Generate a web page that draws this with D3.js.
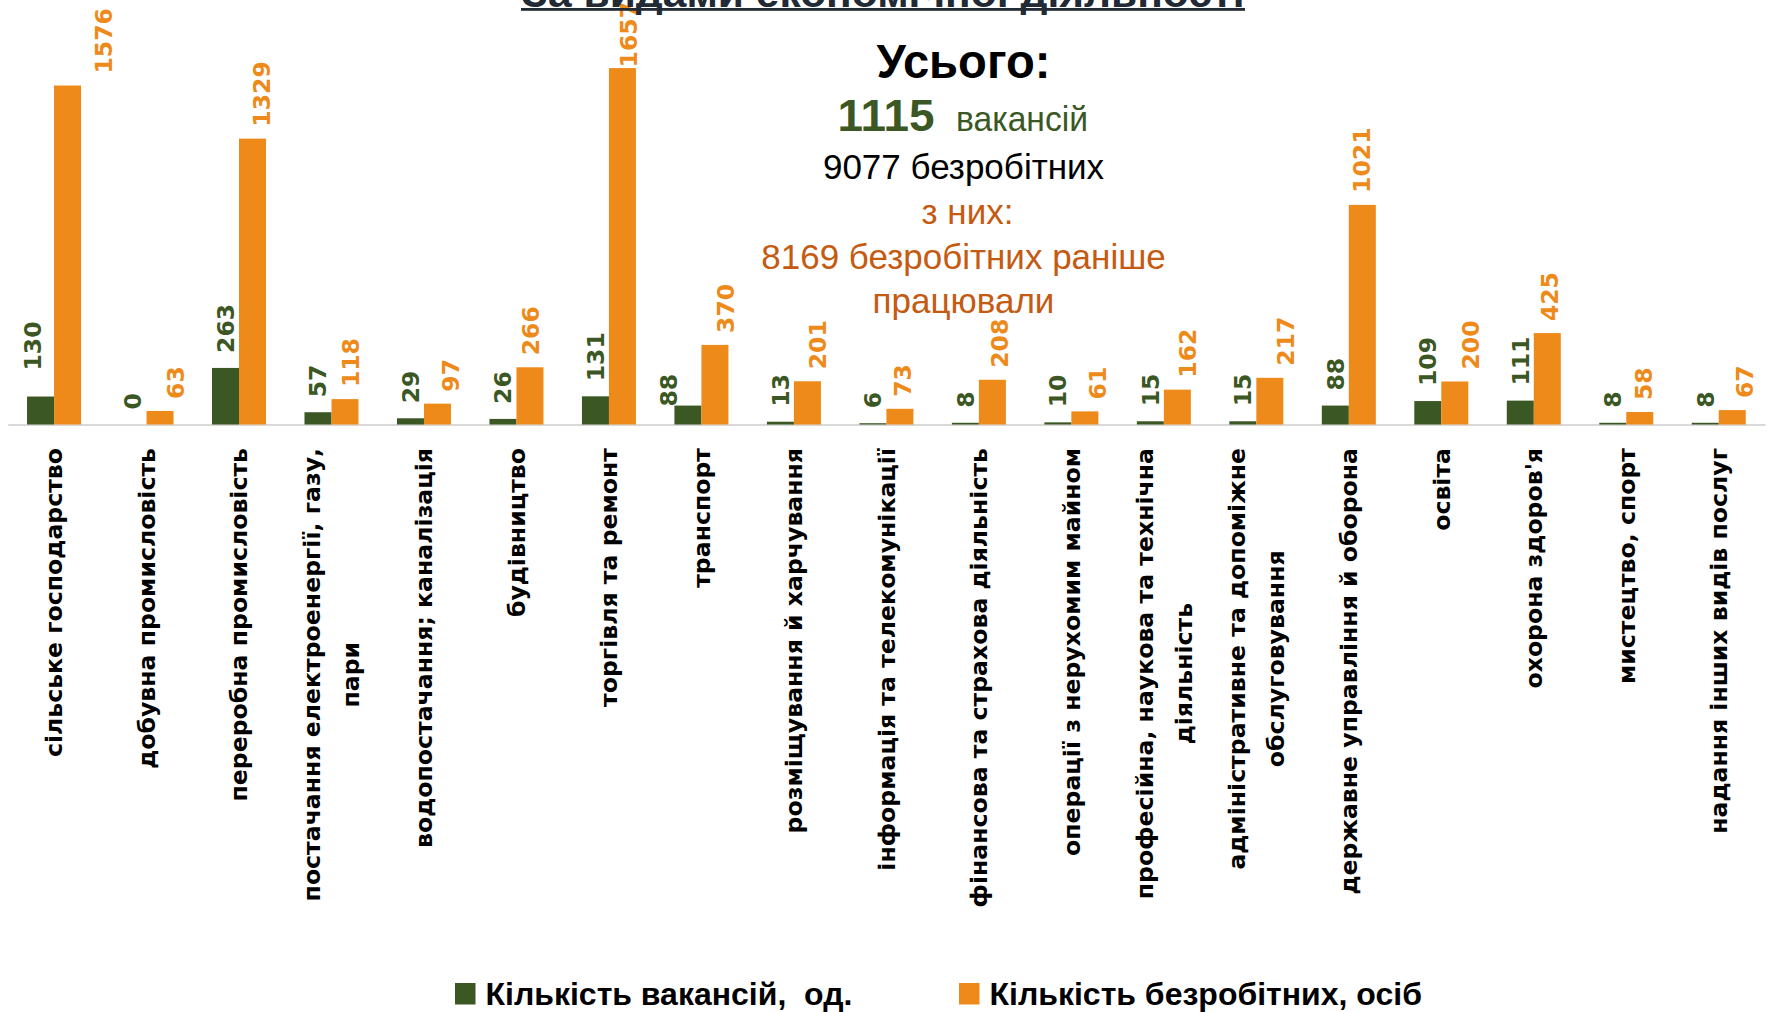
<!DOCTYPE html>
<html><head><meta charset="utf-8">
<script src="https://cdn.jsdelivr.net/npm/d3@7"></script>
<style>body{margin:0;background:#fff;overflow:hidden} svg{display:block}</style>
</head><body>
<svg id="chart" width="1770" height="1012"></svg>
<script>
// ---------- data ----------
const categories = [
  "сільське господарство",
  "добувна промисловість",
  "переробна промисловість",
  "постачання електроенергії, газу,\nпари",
  "водопостачання; каналізація",
  "будівництво",
  "торгівля та ремонт",
  "транспорт",
  "розміщування й харчування",
  "інформація та телекомунікації",
  "фінансова та страхова діяльність",
  "операції з нерухомим майном",
  "професійна, наукова та технічна\nдіяльність",
  "адміністративне та допоміжне\nобслуговування",
  "державне управління й оборона",
  "освіта",
  "охорона здоров'я",
  "мистецтво, спорт",
  "надання інших видів послуг"
];
const vacancies  = [130, 0, 263, 57, 29, 26, 131, 88, 13, 6, 8, 10, 15, 15, 88, 109, 111, 8, 8];
const unemployed = [1576, 63, 1329, 118, 97, 266, 1657, 370, 201, 73, 208, 61, 162, 217, 1021, 200, 425, 58, 67];
const seriesNames = ["Кількість вакансій,  од.", "Кількість безробітних, осіб"];
const titleText = "За видами економічної діяльності";
const totalHeader = "Усього:";
const totalVacancies = "1115";
const totalVacWord = "вакансій";
const totalUnemployed = "9077 безробітних";
const ofThem = "з них:";
const workedBefore = ["8169 безробітних раніше", "працювали"];

// ---------- styles / layout ----------
const GREEN = "#3B5724", ORANGE = "#EE8A1A", TXT_ORANGE = "#C55A11", TXT_GREEN = "#3B5724";
const svg = d3.select("#chart");
const baseY = 424.5;

const x = d3.scaleBand().domain(d3.range(categories.length)).range([7.8, 1765])
  .paddingInner(0.416).paddingOuter(0.208);
const sub = d3.scaleBand().domain([0, 1]).range([0, x.bandwidth()]);
const y = d3.scaleLinear().domain([0, 1800]).range([baseY, baseY - 1800 * 0.2151]);

// axis line
const axisG = svg.append("g").attr("transform", `translate(0,${baseY})`)
  .call(d3.axisBottom(x).tickSize(0).tickSizeOuter(0).tickFormat(""));
axisG.select(".domain").attr("stroke", "#D9D9D9").attr("stroke-width", 2.2);

// bars
const series = [vacancies, unemployed];
const colors = [GREEN, ORANGE];
series.forEach((vals, s) => {
  svg.append("g").selectAll("rect").data(vals).join("rect")
    .attr("x", (d, i) => x(i) + sub(s))
    .attr("width", sub.bandwidth())
    .attr("y", d => y(d))
    .attr("height", d => baseY - y(d))
    .attr("fill", colors[s]);
});

// value labels (small horizontal tweaks mimic the original label placement)
const VFONT = "'DejaVu Sans', sans-serif";
const orangeLabelDx = [36, 16, 9, 6, 13, 1, 6, 11, 10, 3, 7, 13, 10, 16, -1, 16, 2, 4, 12];
const greenLabelDx = d3.range(categories.length).map(i => 0);
greenLabelDx[0] = -8; greenLabelDx[7] = -19;
const greenLabelDy = d3.range(categories.length).map(i => 0);
greenLabelDy[0] = -11; greenLabelDy[7] = 16;
series.forEach((vals, s) => {
  const g = svg.append("g");
  vals.forEach((d, i) => {
    const cx = x(i) + sub(s) + sub.bandwidth() / 2 + (s === 1 ? orangeLabelDx[i] : greenLabelDx[i]);
    const t = g.append("text")
      .attr("font-family", VFONT).attr("font-weight", "bold").attr("font-size", 23.5)
      .attr("fill", colors[s]).attr("text-anchor", "start").attr("dy", "0.36em")
      .text(d);
    const len = t.node().getComputedTextLength();
    let yb = y(d) - (s === 0 ? 15 : 12) + (s === 0 ? greenLabelDy[i] : 0);
    if (yb - len < 2) yb = len + 2;
    t.attr("transform", `translate(${cx},${yb}) rotate(-90)`);
  });
});

// category labels
const CFONT = "'DejaVu Sans', sans-serif";
const labelTop = 448, lineH = 39;
categories.forEach((c, i) => {
  const lines = c.split("\n");
  const g = svg.append("g").attr("transform", `translate(${x(i) + x.bandwidth() / 2},${labelTop}) rotate(-90)`);
  const ts = lines.map((ln, k) => g.append("text")
    .attr("font-family", CFONT).attr("font-weight", "bold").attr("font-size", 23.6)
    .attr("fill", "#000").attr("text-anchor", "middle")
    .attr("y", (k - (lines.length - 1) / 2) * lineH).attr("dy", "0.35em")
    .text(ln));
  const L = d3.max(ts, t => t.node().getComputedTextLength());
  ts.forEach(t => t.attr("x", -L / 2));
});

// center summary text
const SFONT = "'Liberation Sans', Arial, sans-serif";
const cxText = 963.5;
svg.append("text").attr("x", cxText).attr("y", 78).attr("text-anchor", "middle")
  .attr("font-family", SFONT).attr("font-weight", "bold").attr("font-size", 48).attr("fill", "#000")
  .attr("textLength", 174).attr("lengthAdjust", "spacingAndGlyphs")
  .text(totalHeader);
svg.append("text").attr("x", 837.5).attr("y", 131)
  .attr("font-family", SFONT).attr("font-weight", "bold").attr("font-size", 44).attr("fill", TXT_GREEN)
  .attr("textLength", 97).attr("lengthAdjust", "spacingAndGlyphs")
  .text(totalVacancies);
svg.append("text").attr("x", 956).attr("y", 131)
  .attr("font-family", SFONT).attr("font-size", 35).attr("fill", TXT_GREEN)
  .attr("textLength", 132).attr("lengthAdjust", "spacingAndGlyphs")
  .text(totalVacWord);
svg.append("text").attr("x", cxText).attr("y", 179).attr("text-anchor", "middle")
  .attr("font-family", SFONT).attr("font-size", 35).attr("fill", "#000").text(totalUnemployed);
svg.append("text").attr("x", cxText + 4).attr("y", 224).attr("text-anchor", "middle")
  .attr("font-family", SFONT).attr("font-size", 35).attr("fill", TXT_ORANGE).text(ofThem);
workedBefore.forEach((t, k) => {
  svg.append("text").attr("x", cxText).attr("y", 269 + k * 44).attr("text-anchor", "middle")
    .attr("font-family", SFONT).attr("font-size", 35).attr("fill", TXT_ORANGE).text(t);
});

// title (mostly clipped at the top edge, as in the original), underlined
svg.append("text").attr("x", 883).attr("y", 7).attr("text-anchor", "middle")
  .attr("font-family", SFONT).attr("font-weight", "bold").attr("font-size", 40).attr("fill", "#222B35")
  .attr("textLength", 723).attr("lengthAdjust", "spacingAndGlyphs")
  .text(titleText);
svg.append("rect").attr("x", 521).attr("y", 8).attr("width", 724).attr("height", 2.8).attr("fill", "#222B35");

// legend
const legY = 1005;
const legItems = [{ x: 455, tx: 485.5 }, { x: 959, tx: 989.5 }];
seriesNames.forEach((n, s) => {
  svg.append("rect").attr("x", legItems[s].x).attr("y", 983).attr("width", 20.5).attr("height", 21.5).attr("fill", colors[s]);
  svg.append("text").attr("x", legItems[s].tx).attr("y", legY)
    .attr("font-family", SFONT).attr("font-weight", "bold").attr("font-size", 32).attr("fill", "#000")
    .style("white-space", "pre").text(n);
});
</script>
</body></html>
